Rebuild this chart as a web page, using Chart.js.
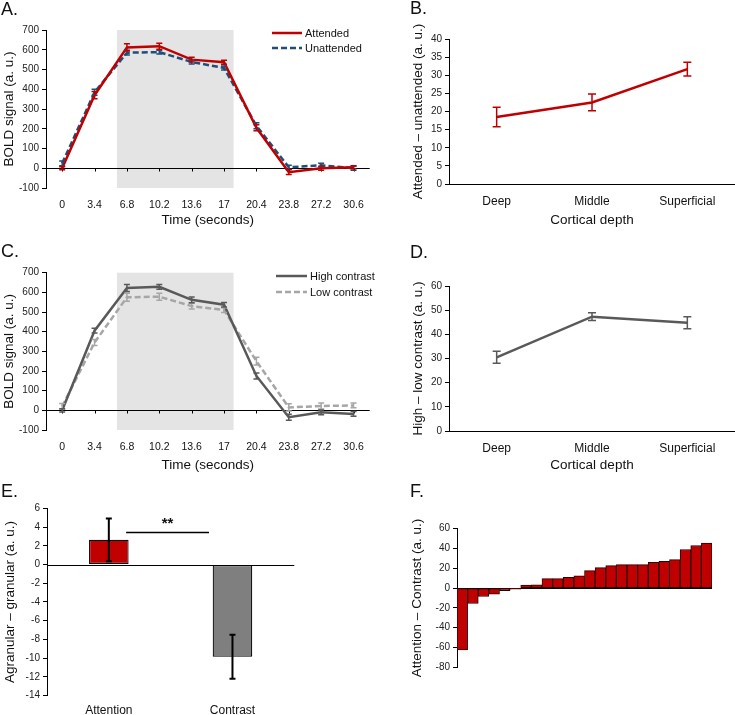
<!DOCTYPE html>
<html>
<head>
<meta charset="utf-8">
<script src="https://cdn.jsdelivr.net/npm/chart.js@4.4.1/dist/chart.umd.min.js"></script>
<style>
  html, body { margin: 0; padding: 0; background: #fff; }
  #figure { position: relative; width: 735px; height: 715px; overflow: hidden; }
  #figure canvas { position: absolute; }
</style>
</head>
<body>
<div id="figure">
  <canvas id="panel-a"></canvas>
  <canvas id="panel-b"></canvas>
  <canvas id="panel-c"></canvas>
  <canvas id="panel-d"></canvas>
  <canvas id="panel-e"></canvas>
  <canvas id="panel-f"></canvas>
</div>
<script>
// time course (A, C)
const timeLabels = ['0', '3.4', '6.8', '10.2', '13.6', '17', '20.4', '23.8', '27.2', '30.6'];
const stimulusWindow = [5.75, 18.0]; // seconds, grey block
const attended = [0, 370, 612, 618, 550, 537, 205, -20, 0, 5];
const attendedErr = [8, 18, 18, 15, 12, 10, 15, 12, 10, 8];
const unattended = [25, 385, 585, 588, 538, 508, 215, 5, 15, 0];
const unattendedErr = [12, 15, 12, 10, 10, 10, 15, 10, 10, 10];
const highContrast = [0, 405, 622, 628, 562, 537, 175, -35, -10, -18];
const highContrastErr = [8, 12, 18, 12, 15, 12, 15, 15, 12, 12];
const lowContrast = [20, 345, 575, 578, 530, 510, 250, 15, 22, 25];
const lowContrastErr = [15, 15, 20, 18, 15, 12, 20, 18, 15, 12];

// depth profiles (B, D)
const depthLabels = ['Deep', 'Middle', 'Superficial'];
const attentionEffect = [18.5, 22.5, 31.7];
const attentionEffectErr = [2.7, 2.3, 1.9];
const contrastEffect = [30.5, 47.3, 44.8];
const contrastEffectErr = [2.5, 1.6, 2.5];

// agranular - granular (E)
const laminarLabels = ['Attention', 'Contrast'];
const laminarDiff = [2.64, -9.85];
const laminarDiffErr = [2.28, 2.35];
const sigFrom = 0.14, sigTo = 0.81, sigValue = 3.42;

// per subject attention - contrast (F)
const subjectDiff = [-62.5, -15.6, -8.5, -6.1, -2.7, -1.0, 3.0, 3.4, 9.5, 9.5, 10.8, 12.5,
                     17.6, 20.7, 22.7, 23.7, 23.7, 23.7, 26.1, 27.1, 28.8, 39, 43, 45.4];
const subjectLabels = subjectDiff.map((v, i) => String(i + 1));

const FONT = '"Liberation Sans", Arial, sans-serif';
Chart.defaults.font.family = FONT;
Chart.defaults.color = '#1a1a1a';
Chart.defaults.animation = false;
Chart.defaults.responsive = false;
Chart.defaults.plugins.legend.display = false;
Chart.defaults.plugins.tooltip.enabled = false;

const errorBars = {
    id: 'errorBars',
    afterDatasetsDraw(chart) {
        const ctx = chart.ctx;
        const y = chart.scales.y;
        for (let i = chart.data.datasets.length - 1; i >= 0; i--) {
            const ds = chart.data.datasets[i];
            if (!ds.errors) continue;
            const meta = chart.getDatasetMeta(i);
            const cap = ds.capWidth || 3;
            ctx.save();
            ctx.strokeStyle = ds.errorColor || ds.borderColor;
            ctx.lineWidth = ds.errorWidth || 1.5;
            ctx.setLineDash([]);
            ctx.beginPath();
            meta.data.forEach((el, j) => {
                const top = y.getPixelForValue(ds.data[j] + ds.errors[j]);
                const bot = y.getPixelForValue(ds.data[j] - ds.errors[j]);
                ctx.moveTo(el.x, top); ctx.lineTo(el.x, bot);
                ctx.moveTo(el.x - cap, top); ctx.lineTo(el.x + cap, top);
                ctx.moveTo(el.x - cap, bot); ctx.lineTo(el.x + cap, bot);
            });
            ctx.stroke();
            ctx.restore();
        }
    }
};

const decor = {
    id: 'decor',
    beforeDatasetsDraw(chart, args, opts) {
        const { ctx, chartArea, scales: { x, y } } = chart;
        ctx.save();
        if (opts.shade) {
            const step = Number(chart.data.labels[1]);
            const x0 = x.getPixelForValue(opts.shade[0] / step);
            const x1 = x.getPixelForValue(opts.shade[1] / step);
            ctx.fillStyle = '#e4e4e4';
            ctx.fillRect(x0, chartArea.top, x1 - x0, chartArea.bottom - chartArea.top);
        }
        if (opts.zeroLine) {
            const y0 = Math.round(y.getPixelForValue(0)) + 0.5;
            ctx.strokeStyle = '#000';
            ctx.lineWidth = 1;
            ctx.beginPath();
            ctx.moveTo(chartArea.left, y0);
            ctx.lineTo(chartArea.right, y0);
            if (opts.zeroTicks) {
                chart.data.labels.forEach((l, i) => {
                    const px = Math.round(x.getPixelForValue(i)) + 0.5;
                    ctx.moveTo(px, y0);
                    ctx.lineTo(px, y0 + 3);
                });
            }
            ctx.stroke();
        }
        ctx.restore();
    }
};

const lineLegend = {
    id: 'lineLegend',
    afterDraw(chart, args, opts) {
        if (opts.x === undefined) return;
        const ctx = chart.ctx;
        ctx.save();
        ctx.font = '11px ' + FONT;
        ctx.textBaseline = 'middle';
        chart.data.datasets.forEach((ds, i) => {
            const y = opts.y + i * opts.rowGap;
            ctx.strokeStyle = ds.borderColor;
            ctx.lineWidth = ds.borderWidth;
            ctx.setLineDash(ds.borderDash || []);
            ctx.beginPath();
            ctx.moveTo(opts.x, y);
            ctx.lineTo(opts.x + opts.lineLength, y);
            ctx.stroke();
            ctx.fillStyle = '#111';
            ctx.fillText(ds.label, opts.x + opts.lineLength + 3, y + 0.5);
        });
        ctx.restore();
    }
};

const panelLabel = {
    id: 'panelLabel',
    afterDraw(chart, args, opts) {
        if (!opts.text) return;
        const ctx = chart.ctx;
        ctx.save();
        ctx.font = '18px ' + FONT;
        ctx.fillStyle = '#111';
        ctx.textBaseline = 'alphabetic';
        ctx.fillText(opts.text, opts.x, opts.y);
        ctx.restore();
    }
};

const sigBar = {
    id: 'sigBar',
    afterDatasetsDraw(chart, args, opts) {
        if (!opts.text) return;
        const { ctx, scales: { x, y } } = chart;
        const x0 = x.getPixelForValue(opts.from);
        const x1 = x.getPixelForValue(opts.to);
        const py = Math.round(y.getPixelForValue(opts.value)) + 0.5;
        ctx.save();
        ctx.strokeStyle = '#000';
        ctx.lineWidth = 1.3;
        ctx.beginPath();
        ctx.moveTo(x0, py);
        ctx.lineTo(x1, py);
        ctx.stroke();
        ctx.fillStyle = '#111';
        ctx.font = 'bold 15px ' + FONT;
        ctx.textAlign = 'center';
        ctx.textBaseline = 'middle';
        ctx.fillText(opts.text, (x0 + x1) / 2, py - 9);
        ctx.restore();
    }
};

function placeCanvas(id, box) {
    const c = document.getElementById(id);
    c.style.left = box.left + 'px';
    c.style.top = box.top + 'px';
    c.width = box.width;
    c.height = box.height;
    return c;
}

function yAxis(min, max, step, title, width, titlePad) {
    return {
        min: min,
        max: max,
        ticks: { stepSize: step, font: { size: 10 }, padding: 3, color: '#222' },
        grid: { drawOnChartArea: false, drawTicks: true, tickLength: 4, color: '#000', tickColor: '#000' },
        border: { display: true, color: '#000', width: 1 },
        title: { display: true, text: title, font: { size: 13.5 }, color: '#111', padding: { top: titlePad, bottom: 0 } },
        afterFit: s => { s.width = width; }
    };
}

function xAxis(o) {
    return {
        type: 'category',
        offset: true,
        grid: { display: false, drawTicks: false },
        border: { display: !!o.border, color: '#000', width: 1 },
        ticks: { display: o.showTicks !== false, font: { size: o.tickSize || 10.5 }, padding: o.tickPad || 10,
                 maxRotation: 0, autoSkip: false, color: '#111' },
        title: { display: !!o.title, text: o.title || '', font: { size: 13.5 }, color: '#111',
                 padding: { top: 0, bottom: o.titlePad || 0 } },
        afterFit: s => { s.height = o.height; }
    };
}

function lineSet(label, data, errors, color, dash) {
    return {
        label: label,
        data: data,
        errors: errors,
        borderColor: color,
        borderWidth: 2.5,
        borderDash: dash || [],
        pointRadius: 0,
        tension: 0,
        fill: false,
        capWidth: 3
    };
}

// A. attended vs unattended time course
const boxA = { left: 0, top: 0, width: 375, height: 232 };
new Chart(placeCanvas('panel-a', boxA), {
    type: 'line',
    data: {
        labels: timeLabels,
        datasets: [
            lineSet('Attended', attended, attendedErr, '#C00000'),
            lineSet('Unattended', unattended, unattendedErr, '#1F4E79', [6, 3])
        ]
    },
    options: {
        layout: { padding: { top: 30, right: 5, left: 0, bottom: 0 } },
        scales: {
            x: xAxis({ height: 44, tickPad: 11, title: 'Time (seconds)', titlePad: 4 }),
            y: yAxis(-100, 700, 100, 'BOLD signal (a. u.)', 46, 1)
        },
        plugins: {
            decor: { shade: stimulusWindow, zeroLine: true, zeroTicks: true },
            lineLegend: { x: 272, y: 33, rowGap: 15, lineLength: 30 },
            panelLabel: { text: 'A.', x: 1, y: 15 }
        }
    },
    plugins: [decor, errorBars, lineLegend, panelLabel]
});

// B. attention effect by depth
const boxB = { left: 370, top: 0, width: 365, height: 232 };
new Chart(placeCanvas('panel-b', boxB), {
    type: 'line',
    data: {
        labels: depthLabels,
        datasets: [Object.assign(lineSet('Attended - unattended', attentionEffect, attentionEffectErr, '#C00000'), { capWidth: 4 })]
    },
    options: {
        layout: { padding: { top: 39, right: 0, left: 0, bottom: 0 } },
        scales: {
            x: xAxis({ height: 48, border: true, tickSize: 12, tickPad: 10, title: 'Cortical depth', titlePad: 4 }),
            y: yAxis(0, 40, 5, 'Attended \u2013 unattended (a. u.)', 79, 40)
        },
        plugins: {
            panelLabel: { text: 'B.', x: 40, y: 14 }
        }
    },
    plugins: [errorBars, panelLabel]
});

// C. high vs low contrast time course
const boxC = { left: 0, top: 232, width: 375, height: 243 };
new Chart(placeCanvas('panel-c', boxC), {
    type: 'line',
    data: {
        labels: timeLabels,
        datasets: [
            lineSet('High contrast', highContrast, highContrastErr, '#595959'),
            lineSet('Low contrast', lowContrast, lowContrastErr, '#A6A6A6', [6, 3])
        ]
    },
    options: {
        layout: { padding: { top: 40.7, right: 5, left: 0, bottom: 0 } },
        scales: {
            x: xAxis({ height: 45, tickPad: 11, title: 'Time (seconds)', titlePad: 2 }),
            y: yAxis(-100, 700, 100, 'BOLD signal (a. u.)', 46, 1)
        },
        plugins: {
            decor: { shade: stimulusWindow, zeroLine: true, zeroTicks: true },
            lineLegend: { x: 276, y: 44, rowGap: 16, lineLength: 31 },
            panelLabel: { text: 'C.', x: 1, y: 25 }
        }
    },
    plugins: [decor, errorBars, lineLegend, panelLabel]
});

// D. contrast effect by depth
const boxD = { left: 370, top: 232, width: 365, height: 243 };
new Chart(placeCanvas('panel-d', boxD), {
    type: 'line',
    data: {
        labels: depthLabels,
        datasets: [Object.assign(lineSet('High - low contrast', contrastEffect, contrastEffectErr, '#595959'), { capWidth: 4 })]
    },
    options: {
        layout: { padding: { top: 54, right: 0, left: 0, bottom: 0 } },
        scales: {
            x: xAxis({ height: 44, border: true, tickSize: 12, tickPad: 10, title: 'Cortical depth', titlePad: 2 }),
            y: yAxis(0, 60, 10, 'High \u2013 low contrast (a. u.)', 79, 40)
        },
        plugins: {
            panelLabel: { text: 'D.', x: 40, y: 26 }
        }
    },
    plugins: [errorBars, panelLabel]
});

// E. agranular - granular
const boxE = { left: 0, top: 475, width: 300, height: 240 };
new Chart(placeCanvas('panel-e', boxE), {
    type: 'bar',
    data: {
        labels: laminarLabels,
        datasets: [{
            label: 'Agranular - granular',
            data: laminarDiff,
            errors: laminarDiffErr,
            backgroundColor: ['#C00000', '#7F7F7F'],
            borderColor: '#000',
            borderWidth: 1.2,
            borderSkipped: false,
            barPercentage: 0.32,
            categoryPercentage: 1,
            errorColor: '#000',
            errorWidth: 2,
            capWidth: 3
        }]
    },
    options: {
        layout: { padding: { top: 33.3, right: 5.7, left: 0, bottom: 0 } },
        scales: {
            x: xAxis({ height: 19.3, tickSize: 12, tickPad: 8 }),
            y: yAxis(-14, 6, 2, 'Agranular \u2013 granular (a. u.)', 47, 2)
        },
        plugins: {
            decor: { zeroLine: true },
            sigBar: { text: '**', from: sigFrom, to: sigTo, value: sigValue },
            panelLabel: { text: 'E.', x: 1, y: 22 }
        }
    },
    plugins: [decor, errorBars, sigBar, panelLabel]
});

// F. attention - contrast per subject
const boxF = { left: 370, top: 475, width: 365, height: 240 };
new Chart(placeCanvas('panel-f', boxF), {
    type: 'bar',
    data: {
        labels: subjectLabels,
        datasets: [{
            label: 'Attention - Contrast',
            data: subjectDiff,
            backgroundColor: '#C00000',
            borderColor: '#2a0000',
            borderWidth: 1,
            borderSkipped: false,
            barPercentage: 1,
            categoryPercentage: 1
        }]
    },
    options: {
        layout: { padding: { top: 53.7, right: 23, left: 0, bottom: 0 } },
        scales: {
            x: xAxis({ height: 47.7, showTicks: false }),
            y: yAxis(-80, 60, 20, 'Attention \u2013 Contrast (a. u.)', 87, 39)
        },
        plugins: {
            decor: { zeroLine: true },
            panelLabel: { text: 'F.', x: 40, y: 22 }
        }
    },
    plugins: [decor, panelLabel]
});
</script>
</body>
</html>
